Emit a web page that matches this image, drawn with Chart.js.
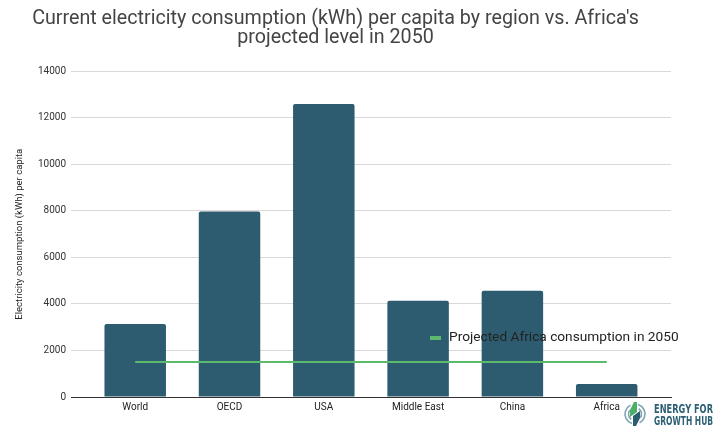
<!DOCTYPE html>
<html>
<head>
<meta charset="utf-8">
<script src="https://cdn.jsdelivr.net/npm/chart.js@4.4.1/dist/chart.umd.min.js"></script>
<style>
  html, body { margin: 0; padding: 0; background: #ffffff; }
  #wrap { width: 715px; height: 430px; }
</style>
</head>
<body>
<div id="wrap"><canvas id="chart" width="715" height="430"></canvas></div>
<script>
// Electricity consumption per capita (kWh) by region
const categories = ['World', 'OECD', 'USA', 'Middle East', 'China', 'Africa'];
const consumption = [3140, 7980, 12600, 4140, 4570, 560];
// Projected Africa per-capita consumption in 2050 (kWh)
const projectedAfrica2050 = 1500;
const projectedLabel = 'Projected Africa consumption in 2050';
const yTicks = [0, 2000, 4000, 6000, 8000, 10000, 12000, 14000];
const titleLines = ["Current electricity consumption (kWh) per capita by region vs. Africa's", 'projected level in 2050'];

const BAR_COLOR = '#2d5b70';
const LINE_COLOR = '#5cba6d';

// Legend for the projection line, drawn inside the plot area
const lineLegend = {
  id: 'lineLegend',
  afterDatasetsDraw(chart) {
    const ctx = chart.ctx;
    const ds = chart.data.datasets.find(d => d.type === 'line');
    ctx.save();
    ctx.fillStyle = ds.borderColor;
    ctx.fillRect(430, 336, 11, 4);
    ctx.fillStyle = '#222222';
    ctx.font = '13.7px Roboto';
    ctx.textBaseline = 'middle';
    ctx.textAlign = 'left';
    ctx.fillText(ds.label, 449, 338);
    ctx.restore();
  }
};

// Publisher mark in the bottom-right corner
const brandMark = {
  id: 'brandMark',
  afterDraw(chart) {
    const ctx = chart.ctx;
    const cx = 635, cy = 414, r = 10;
    ctx.save();
    ctx.lineWidth = 1.6;
    ctx.strokeStyle = '#7fa3b0';
    ctx.beginPath(); ctx.arc(cx, cy, r, Math.PI * 0.6, Math.PI * 1.35); ctx.stroke();
    ctx.beginPath(); ctx.arc(cx, cy, r, Math.PI * 1.6, Math.PI * 2.35); ctx.stroke();
    ctx.beginPath(); ctx.arc(cx, cy, r - 3.5, Math.PI * 0.7, Math.PI * 1.2); ctx.stroke();
    ctx.beginPath(); ctx.arc(cx, cy, r - 3.5, Math.PI * 1.7, Math.PI * 2.2); ctx.stroke();
    // two slanted blades
    ctx.fillStyle = '#4caf68';
    ctx.beginPath();
    ctx.moveTo(cx - 1, cy - 12); ctx.lineTo(cx + 2, cy - 12);
    ctx.lineTo(cx + 2, cy - 2); ctx.lineTo(cx - 5, cy + 3);
    ctx.lineTo(cx - 5, cy - 4); ctx.closePath(); ctx.fill();
    ctx.fillStyle = '#2b5c70';
    ctx.beginPath();
    ctx.moveTo(cx + 5, cy - 3); ctx.lineTo(cx + 5, cy + 4);
    ctx.lineTo(cx + 1, cy + 12); ctx.lineTo(cx - 2, cy + 12);
    ctx.lineTo(cx - 2, cy + 2); ctx.closePath(); ctx.fill();
    ctx.fillStyle = '#2d6075';
    ctx.font = 'bold 12.5px "DejaVu Sans Condensed", "DejaVu Sans", sans-serif';
    ctx.textAlign = 'left';
    ctx.textBaseline = 'alphabetic';
    ctx.fillText('ENERGY FOR', 654, 413, 59);
    ctx.fillText('GROWTH HUB', 654, 424.5, 59);
    ctx.restore();
  }
};

const chart = new Chart(document.getElementById('chart'), {
  data: {
    datasets: [
      {
        type: 'line',
        label: projectedLabel,
        data: [
          { x: 0, y: projectedAfrica2050 },
          { x: categories.length - 1, y: projectedAfrica2050 }
        ],
        borderColor: LINE_COLOR,
        backgroundColor: LINE_COLOR,
        borderWidth: 2,
        pointRadius: 0,
        order: 0
      },
      {
        type: 'bar',
        label: 'Consumption per capita',
        data: consumption.map((v, i) => ({ x: i, y: v })),
        backgroundColor: BAR_COLOR,
        borderRadius: 2,
        borderSkipped: 'bottom',
        categoryPercentage: 1,
        barPercentage: 0.652,
        order: 1
      }
    ]
  },
  options: {
    responsive: false,
    animation: false,
    layout: { padding: { left: 0, right: 44, top: 0, bottom: 0 } },
    plugins: {
      legend: { display: false },
      tooltip: { enabled: false },
      title: {
        display: true,
        text: titleLines,
        color: '#444444',
        font: { family: 'Roboto', size: 19.7, weight: 'normal', lineHeight: 1.0 },
        padding: { top: 9, bottom: 23 }
      }
    },
    scales: {
      x: {
        type: 'linear',
        offset: false,
        min: -0.681,
        max: 5.682,
        afterBuildTicks(scale) {
          scale.ticks = categories.map((_, i) => ({ value: i }));
        },
        afterFit(scale) { scale.height = 33; },
        grid: { display: false, drawTicks: false, offset: false },
        border: { display: true, color: '#333333', width: 1 },
        ticks: {
          padding: 4,
          color: '#222222',
          font: { family: 'Roboto', size: 10 },
          maxRotation: 0,
          callback: (v) => categories[v]
        }
      },
      y: {
        min: 0,
        max: 14000,
        afterBuildTicks(scale) {
          scale.ticks = yTicks.map(v => ({ value: v }));
        },
        afterFit(scale) { scale.width = 71; },
        grid: {
          drawTicks: false,
          color: (c) => (c.tick && c.tick.value === 0 ? '#333333' : '#d9d9d9'),
          lineWidth: 1
        },
        border: { display: false },
        ticks: {
          padding: 5,
          color: '#333333',
          font: { family: 'Roboto', size: 10 },
          callback: (v) => String(v)
        },
        title: {
          display: true,
          text: 'Electricity consumption (kWh) per capita',
          color: '#222222',
          font: { family: 'Roboto', size: 9.5 },
          padding: { top: 14, bottom: 0 }
        }
      }
    }
  },
  plugins: [lineLegend, brandMark]
});
</script>
</body>
</html>
